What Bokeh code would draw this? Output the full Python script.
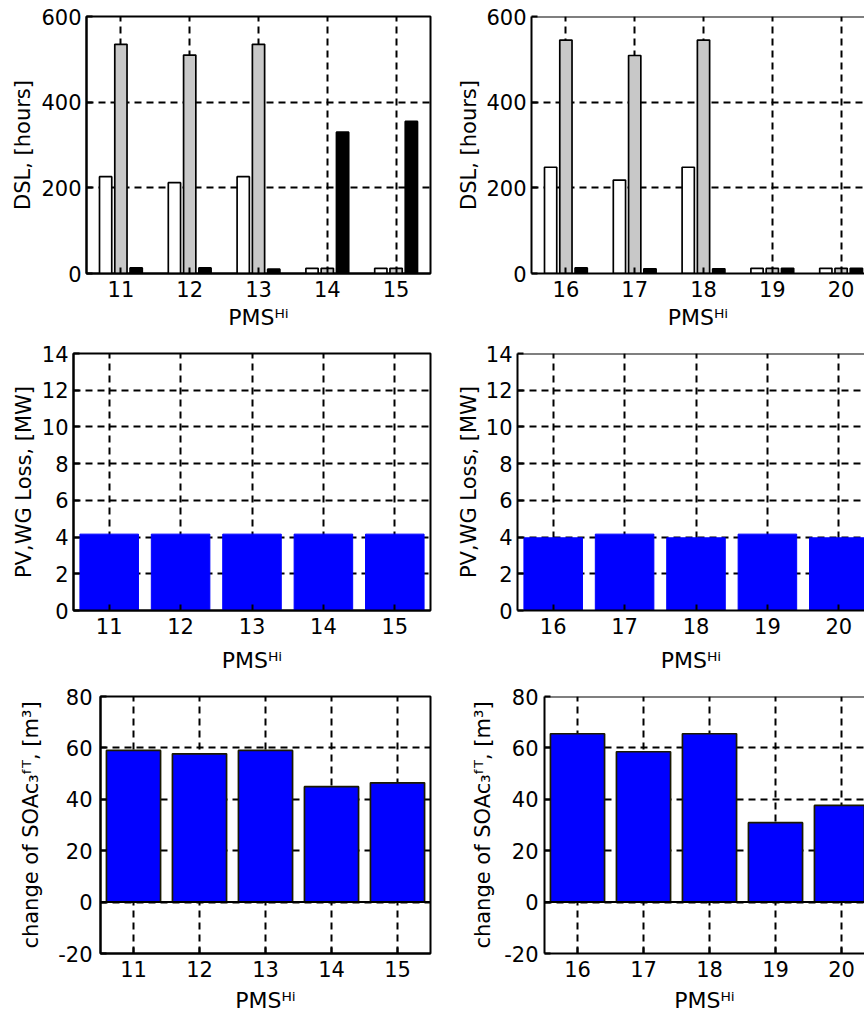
from bokeh.plotting import figure
from bokeh.layouts import column, row
from bokeh.models import FixedTicker, Span, Range1d, ColumnDataSource
from bokeh.transform import dodge
from bokeh.embed import file_html
from bokeh.resources import INLINE

# ---------------- data ----------------
pms_left = [11, 12, 13, 14, 15]
pms_right = [16, 17, 18, 19, 20]
dsl_white_left = [226, 212, 226, 12, 12]
dsl_grey_left = [535, 510, 535, 12, 12]
dsl_black_left = [13, 13, 10, 330, 355]
dsl_white_right = [248, 218, 248, 12, 12]
dsl_grey_right = [545, 509, 545, 12, 12]
dsl_black_right = [13, 11, 11, 12, 12]
loss_left = [4.16, 4.16, 4.16, 4.16, 4.16]
loss_right = [3.96, 4.16, 3.96, 4.16, 3.96]
soa_left = [59.0, 57.7, 59.0, 44.9, 46.4]
soa_right = [65.5, 58.5, 65.5, 30.9, 37.6]
dsl_ticks = [0, 200, 400, 600]
loss_ticks = [0, 2, 4, 6, 8, 10, 12, 14]
soa_ticks = [-20, 0, 20, 40, 60, 80]

X_LABEL = "PMS\u1d34\u2071"
DSL_LABEL = "DSL, [hours]"
LOSS_LABEL = "PV,WG Loss, [MW]"
SOA_LABEL = "change of SOAc\u2083\u1da0\u1d40, [m\u00b3]"

FONT = "DejaVu Sans"
BLUE = "#0000ff"
GREY = "#c8c8c8"
LEFT_W, RIGHT_W = 440, 424
FRAME_H = 258


def base_fig(xs, width, bl, bt, bb, yr, yticks, cut, unit_px,
             ytick_std, ylab_std, xlab_std, ylabel):
    br = 0 if cut else 10
    fw = width - bl - br
    x0 = xs[0] - 0.5
    x1 = x0 + fw / unit_px
    p = figure(width=width, height=bt + FRAME_H + bb, x_range=Range1d(x0, x1),
               y_range=Range1d(*yr), output_backend="svg", toolbar_location=None,
               min_border_left=bl, min_border_right=br, min_border_top=bt,
               min_border_bottom=bb)
    p.background_fill_color = "white"
    p.border_fill_color = "white"
    p.xaxis.ticker = FixedTicker(ticks=xs)
    p.yaxis.ticker = FixedTicker(ticks=yticks)
    p.yaxis.major_label_overrides = {t: str(t) for t in yticks}
    for ax in (p.xaxis[0], p.yaxis[0]):
        ax.major_tick_in = 6
        ax.major_tick_out = 0
        ax.minor_tick_line_color = None
        ax.axis_line_width = 2
        ax.axis_line_color = "black"
        ax.major_tick_line_width = 2
        ax.major_tick_line_color = "black"
        ax.major_label_text_font = FONT
        ax.major_label_text_font_size = "21px"
        ax.major_label_text_color = "black"
        ax.axis_label_text_font = FONT
        ax.axis_label_text_font_style = "normal"
        ax.axis_label_text_color = "black"
    p.xaxis.axis_label = X_LABEL
    p.xaxis.axis_label_text_font_size = "22px"
    p.yaxis.axis_label = ylabel
    p.yaxis.axis_label_text_font_size = "21px"
    p.yaxis.major_label_standoff = ytick_std
    p.xaxis.major_label_standoff = 7
    p.yaxis.axis_label_standoff = ylab_std
    p.xaxis.axis_label_standoff = xlab_std
    for g in (p.xgrid[0], p.ygrid[0]):
        g.grid_line_color = "black"
        g.grid_line_dash = "7 5"
        g.grid_line_width = 2
    if cut:
        p.outline_line_color = None
        p.add_layout(Span(location=yr[1], dimension="width", line_color="black",
                          line_width=2))
    else:
        p.outline_line_color = "black"
        p.outline_line_width = 2
    return p


def dsl_fig(xs, w, a, b, c, bl, cut, unit, ylab_std):
    p = base_fig(xs, w, bl, 16, 58, (0, 600), dsl_ticks, cut, unit, 5,
                 ylab_std, 5, DSL_LABEL)
    src = ColumnDataSource(dict(x=xs, a=a, b=b, c=c))
    p.vbar(x=dodge("x", -0.222, range=p.x_range), top="a", width=0.178, source=src,
           fill_color="white", line_color="black", line_width=1.7)
    p.vbar(x=dodge("x", 0.0, range=p.x_range), top="b", width=0.178, source=src,
           fill_color=GREY, line_color="black", line_width=1.7)
    p.vbar(x=dodge("x", 0.222, range=p.x_range), top="c", width=0.178, source=src,
           fill_color="black", line_color="black", line_width=1.7)
    return p


def loss_fig(xs, w, vals, bl, cut, unit, ylab_std):
    p = base_fig(xs, w, bl, 21, 64, (0, 14), loss_ticks, cut, unit, 5,
                 ylab_std, 11, LOSS_LABEL)
    p.vbar(x=xs, top=vals, width=0.82, fill_color=BLUE, line_color=BLUE, line_width=1)
    return p


def soa_fig(xs, w, vals, bl, cut, unit, ytick_std, ylab_std):
    p = base_fig(xs, w, bl, 21, 61, (-20, 80), soa_ticks, cut, unit, ytick_std,
                 ylab_std, 8, SOA_LABEL)
    p.vbar(x=xs, top=vals, width=0.82, fill_color=BLUE, line_color="#1a1a00",
           line_width=1.7)
    p.add_layout(Span(location=0, dimension="width", line_color="black", line_width=2))
    return p


u1 = (LEFT_W - 86 - 10) / 5
u2 = (LEFT_W - 73 - 10) / 5
u3 = (LEFT_W - 100 - 10) / 5

p1l = dsl_fig(pms_left, LEFT_W, dsl_white_left, dsl_grey_left, dsl_black_left, 86, False, u1, 3)
p1r = dsl_fig(pms_right, RIGHT_W, dsl_white_right, dsl_grey_right, dsl_black_right, 91, True, u1, 2)
p2l = loss_fig(pms_left, LEFT_W, loss_left, 73, False, u2, 3)
p2r = loss_fig(pms_right, RIGHT_W, loss_right, 77, True, u2, 2)
p3l = soa_fig(pms_left, LEFT_W, soa_left, 100, False, u3, 8, 12)
p3r = soa_fig(pms_right, RIGHT_W, soa_right, 104, True, u3, 6, 6)

layout = column(row(p1l, p1r), row(p2l, p2r), row(p3l, p3r))

with open("out.html", "w") as f:
    f.write(file_html(layout, INLINE))
